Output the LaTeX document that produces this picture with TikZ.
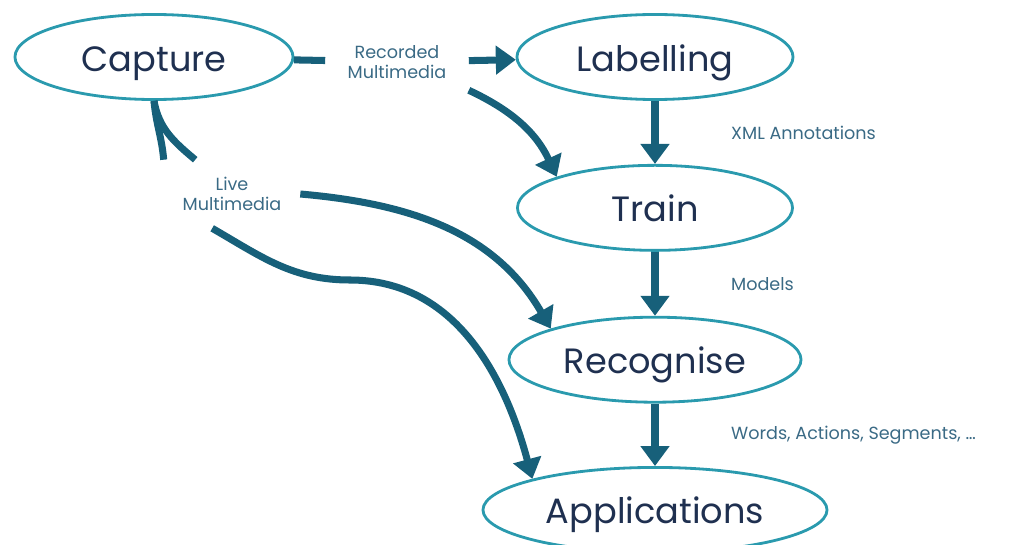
\documentclass[tikz,border=0pt]{standalone}
\usepackage{fontspec}
\setmainfont{Poppins}
\usetikzlibrary{positioning}
\usetikzlibrary{shapes.geometric}
\usetikzlibrary{arrows.meta}
\definecolor{ringteal}{HTML}{2A9AAE}
\definecolor{flowteal}{HTML}{17607A}
\definecolor{stagetext}{HTML}{1F3050}
\definecolor{labeltext}{HTML}{3A6A85}

\begin{document}
\begin{tikzpicture}[
  x=0.025cm, y=0.025cm,
  stage/.style={ellipse, draw=ringteal, line width=2pt, minimum height=2.125cm, text height=0.95cm, text depth=0.25cm, text=stagetext, font=\fontsize{25}{29}\selectfont},
  flow/.style={draw=flowteal, line width=5pt},
  arrow/.style={flow, -{Triangle[length=0.5cm, width=0.7cm]}},
  tag/.style={text=labeltext, font=\fontsize{12.5}{14}\selectfont, align=center, inner sep=0pt},
  side/.style={text=labeltext, font=\fontsize{12.5}{14}\selectfont, right=1.7cm}
]
\useasboundingbox (0,0) rectangle (1015,-545);

\node[stage, minimum width=6.95cm] (capture) at (154,-57) {Capture};
\node[stage, minimum width=6.9cm] (labelling) at (655,-57) {Labelling};
\node[stage, minimum width=6.875cm, below=1.575cm of labelling] (train) {Train};
\node[stage, minimum width=7.3cm, below=1.6cm of train] (recognise) {Recognise};
\node[stage, minimum width=8.6cm, below=1.56cm of recognise] (applications) {Applications};

\node[tag, minimum width=3.575cm, minimum height=1.4cm] (recorded) at (397,-62) {Recorded\\Multimedia};
\node[tag, minimum width=3.4cm, minimum height=1.7cm] (live) at (232,-194) {Live\\Multimedia};
\coordinate (dip) at (350,-280);

\draw[flow] (capture) -- (recorded);
\draw[arrow] (recorded) -- (labelling);
\draw[arrow] (recorded.south east) to[out=-25, in=115] (train.north west);

\draw[flow] (capture.south) to[out=-85, in=95] (live.north west);
\draw[flow] (capture.south) to[out=-80, in=140] (live.137);
\draw[arrow] (live.east) to[out=-5, in=120] (recognise.north west);
\draw[arrow] (live.240) to[out=-30, in=180] (dip) to[out=0, in=105] (applications.north west);

\draw[arrow] (labelling) -- node[side]{XML Annotations} (train);
\draw[arrow] (train) -- node[side]{Models} (recognise);
\draw[arrow] (recognise) -- node[side]{Words, Actions, Segments, …} (applications);

\end{tikzpicture}
\end{document}
